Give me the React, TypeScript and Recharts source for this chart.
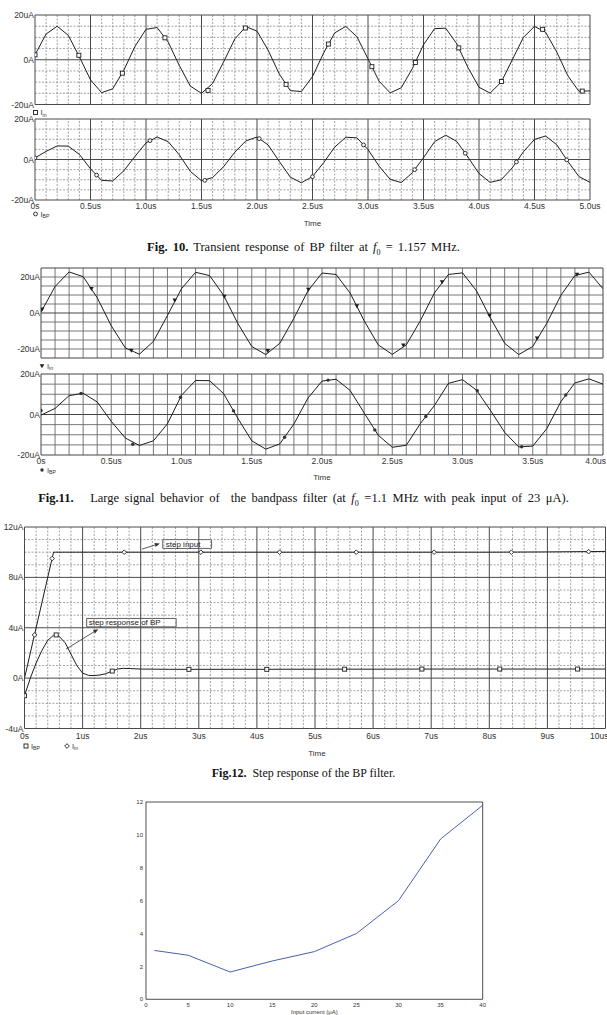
import React from "react";
import {
  ComposedChart,
  LineChart,
  Line,
  Scatter,
  XAxis,
  YAxis,
  ReferenceLine,
  ReferenceArea,
} from "recharts";

const SANS = '"Liberation Sans", Arial, Helvetica, sans-serif';
const SERIF = '"Liberation Serif", "Times New Roman", serif';
const INK = "#1e1e1e";
const LABEL = "#333";

// ---------- Fig. 10 : transient response at f0 = 1.157 MHz ----------
const fig10Time = [0, 0.1, 0.2, 0.3, 0.4, 0.5, 0.6, 0.7, 0.8, 0.9, 1.0, 1.1, 1.2, 1.3, 1.4, 1.5, 1.6, 1.7, 1.8, 1.9, 2.0, 2.1, 2.2, 2.3, 2.4, 2.5, 2.6, 2.7, 2.8, 2.9, 3.0, 3.1, 3.2, 3.3, 3.4, 3.5, 3.6, 3.7, 3.8, 3.9, 4.0, 4.1, 4.2, 4.3, 4.4, 4.5, 4.6, 4.7, 4.8, 4.9, 5.0];
const fig10In = [2.2, 11.5, 15.0, 10.9, 1.3, -9.0, -14.7, -13.0, -4.7, 5.9, 13.6, 14.4, 7.9, -2.6, -11.8, -15.0, -10.6, -0.9, 9.3, 14.8, 12.8, 4.3, -6.3, -13.8, -14.2, -7.5, 3.0, 12.0, 14.9, 10.3, 0.4, -9.6, -14.8, -12.5, -3.9, 6.7, 13.9, 14.1, 7.1, -3.4, -12.3, -14.9, -10.0, 0.0, 10.0, 14.9, 12.3, 3.5, -7.1, -14.1, -13.9];
const fig10Bp = [0.8, 4.0, 6.7, 6.6, 2.5, -4.6, -10.3, -10.6, -5.6, 1.5, 8.2, 11.1, 8.8, 2.3, -5.9, -10.5, -8.9, -3.5, 3.6, 9.2, 11.1, 7.2, -0.9, -8.7, -11.5, -8.4, -1.6, 6.1, 11.0, 10.7, 4.9, -3.3, -9.8, -11.4, -6.5, 0.9, 8.8, 12.0, 8.9, 1.2, -6.9, -11.3, -10.0, -4.1, 3.8, 9.9, 11.6, 7.3, -0.9, -8.4, -11.3];
const fig10InMarkT = [0, 0.395, 0.787, 1.171, 1.559, 1.895, 2.262, 2.643, 3.035, 3.427, 3.818, 4.203, 4.573, 4.93];
const fig10InMarkV = [2.2, 2.0, -6.0, 9.8, -13.7, 14.2, -11.0, 7.0, -3.1, -1.2, 5.3, -9.7, 13.6, -14.0];
const fig10BpMarkT = [0, 0.555, 1.036, 1.53, 2.02, 2.5, 2.96, 3.42, 3.876, 4.337, 4.79];
const fig10BpMarkV = [0.8, -7.7, 9.3, -10.3, 10.3, -8.5, 7.2, -5.0, 3.1, -1.2, -0.2];
const fig10XTicks = [0, 0.5, 1, 1.5, 2, 2.5, 3, 3.5, 4, 4.5, 5];
const fig10XLabels = ["0s", "0.5us", "1.0us", "1.5us", "2.0us", "2.5us", "3.0us", "3.5us", "4.0us", "4.5us", "5.0us"];
const fig10YTicks = [20, 0, -20];
const fig10YLabels = ["20uA", "0A", "-20uA"];

// ---------- Fig. 11 : large signal, f0 = 1.1 MHz, 23 uA peak ----------
const fig11Time = [0, 0.1, 0.2, 0.3, 0.4, 0.5, 0.6, 0.7, 0.8, 0.9, 1.0, 1.1, 1.2, 1.3, 1.4, 1.5, 1.6, 1.7, 1.8, 1.9, 2.0, 2.1, 2.2, 2.3, 2.4, 2.5, 2.6, 2.7, 2.8, 2.9, 3.0, 3.1, 3.2, 3.3, 3.4, 3.5, 3.6, 3.7, 3.8, 3.9, 4.0];
const fig11In = [0.5, 14.7, 22.8, 20.2, 8.5, -7.1, -19.4, -22.9, -15.8, -1.4, 13.5, 22.6, 20.8, 9.8, -5.7, -18.6, -23.1, -16.8, -2.9, 12.3, 22.2, 21.4, 11.1, -4.3, -17.7, -23.0, -17.7, -4.3, 11.1, 21.4, 22.3, 12.3, -2.9, -16.8, -23.1, -18.6, -5.7, 9.8, 20.8, 22.7, 13.5];
const fig11Bp = [-0.3, 3.0, 9.3, 10.5, 6.2, -3.4, -11.6, -15.3, -13.0, -4.6, 9.5, 16.8, 16.7, 10.3, -1.8, -13.0, -17.1, -14.5, -4.7, 8.1, 16.5, 17.4, 11.9, 0.8, -10.2, -16.2, -15.2, -4.5, 4.4, 15.4, 17.2, 12.0, 1.9, -8.8, -16.0, -15.6, -7.0, 6.3, 15.6, 17.6, 15.0];
const fig11InMarkT = [0.008, 0.359, 0.643, 0.952, 1.305, 1.614, 1.903, 2.248, 2.579, 2.855, 3.192, 3.531, 3.815];
const fig11InMarkV = [2.0, 13.5, -20.9, 7.0, 9.2, -21.0, 13.0, 3.8, -18.0, 17.2, -1.4, -14.0, 21.3];
const fig11BpMarkT = [0, 0.285, 0.653, 0.993, 1.37, 1.734, 2.043, 2.376, 2.739, 3.105, 3.421, 3.735];
const fig11BpMarkV = [2.0, 10.4, -14.7, 8.5, 1.8, -11.2, 17.0, -7.6, -1.0, 11.7, -15.9, 9.6];
const fig11XTicks = [0, 0.5, 1, 1.5, 2, 2.5, 3, 3.5, 4];
const fig11XLabels = ["0s", "0.5us", "1.0us", "1.5us", "2.0us", "2.5us", "3.0us", "3.5us", "4.0us"];
const fig11YTicks = [20, 0, -20];
const fig11YLabels = ["20uA", "0A", "-20uA"];

// ---------- Fig. 12 : step response ----------
const fig12Time = [0, 0.1, 0.2, 0.3, 0.4, 0.5, 0.55, 0.6, 0.7, 0.8, 0.9, 1.0, 1.1, 1.2, 1.3, 1.4, 1.5, 1.6, 1.7, 1.8, 2.0, 2.5, 3.0, 4.0, 5.0, 6.0, 7.0, 8.0, 9.0, 10.0];
const fig12In = [0, 2.0, 4.0, 6.0, 8.0, 10.0, 10.0, 10.0, 10.0, 10.0, 10.0, 10.0, 10.0, 10.0, 10.0, 10.0, 10.0, 10.0, 10.0, 10.0, 10.0, 10.0, 10.0, 10.0, 10.0, 10.0, 10.0, 10.0, 10.02, 10.06];
const fig12Bp = [-1.4, 0.0, 1.2, 2.2, 3.0, 3.4, 3.45, 3.3, 2.8, 1.9, 1.0, 0.4, 0.22, 0.2, 0.25, 0.35, 0.55, 0.72, 0.78, 0.76, 0.72, 0.7, 0.7, 0.7, 0.71, 0.71, 0.72, 0.72, 0.72, 0.72];
const fig12BpMarkT = [0, 0.545, 1.51, 2.83, 4.17, 5.51, 6.84, 8.18, 9.52];
const fig12BpMarkV = [-1.4, 3.43, 0.56, 0.7, 0.7, 0.71, 0.72, 0.72, 0.72];
const fig12InMarkT = [0.172, 0.476, 1.716, 3.036, 4.39, 5.71, 7.05, 8.38, 9.71];
const fig12InMarkV = [3.43, 9.5, 10, 10, 10, 10, 10, 10, 10.04];
const fig12XTicks = [0, 1, 2, 3, 4, 5, 6, 7, 8, 9, 10];
const fig12XLabels = ["0s", "1us", "2us", "3us", "4us", "5us", "6us", "7us", "8us", "9us", "10us"];
const fig12YTicks = [12, 8, 4, 0, -4];
const fig12YLabels = ["12uA", "8uA", "4uA", "0A", "-4uA"];
// annotation boxes [x1, x2, y1, y2] and arrows [xFrom, yFrom, xTo, yTo], in axis units
const fig12StepBox = [2.38, 3.22, 10.3, 11.0];
const fig12StepArrow = [2.02, 10.24, 2.33, 10.69];
const fig12RespBox = [1.07, 2.61, 4.07, 4.74];
const fig12RespArrow = [0.714, 2.3, 1.27, 3.89];

// ---------- Fig. 13 : distortion vs input current ----------
const fig13Current = [1, 5, 10, 15, 20, 25, 30, 35, 40];
const fig13Value = [2.97, 2.68, 1.66, 2.33, 2.9, 4.0, 6.0, 9.75, 11.8];
const fig13XTicks = [0, 5, 10, 15, 20, 25, 30, 35, 40];
const fig13YTicks = [0, 2, 4, 6, 8, 10, 12];

const range = (a: number, b: number, s: number) => {
  const out: number[] = [];
  const n = Math.round((b - a) / s);
  for (let i = 0; i <= n; i++) out.push(Math.round((a + i * s) * 1000) / 1000);
  return out;
};

type MarkKind = "square" | "circle" | "dot" | "triangle" | "diamond";

function drawMark(kind: MarkKind, cx: number, cy: number, key?: string) {
  if (cx == null || cy == null || isNaN(cx) || isNaN(cy)) return <g key={key} />;
  switch (kind) {
    case "square":
      return <rect key={key} x={cx - 2} y={cy - 2} width={4} height={4} fill="#fff" stroke={INK} strokeWidth={0.9} />;
    case "circle":
      return <circle key={key} cx={cx} cy={cy} r={1.9} fill="#fff" stroke={INK} strokeWidth={0.9} />;
    case "dot":
      return <circle key={key} cx={cx} cy={cy} r={1.7} fill="#333" />;
    case "triangle":
      return <path key={key} d={`M${cx - 2.3},${cy - 1.8}L${cx + 2.3},${cy - 1.8}L${cx},${cy + 2.2}Z`} fill={INK} />;
    default:
      return <path key={key} d={`M${cx},${cy - 2.3}L${cx + 2.3},${cy}L${cx},${cy + 2.3}L${cx - 2.3},${cy}Z`} fill="#fff" stroke={INK} strokeWidth={0.9} />;
  }
}

const markShape = (kind: MarkKind) => (props: any) => drawMark(kind, props.cx, props.cy);

const arrowShape = (props: any) => {
  const { x1, y1, x2, y2 } = props;
  const a = Math.atan2(y2 - y1, x2 - x1);
  const bx = x2 - 5 * Math.cos(a);
  const by = y2 - 5 * Math.sin(a);
  const s = Math.sin(a);
  const c = Math.cos(a);
  return (
    <g>
      <line x1={x1} y1={y1} x2={bx} y2={by} stroke="#333" strokeWidth={0.8} />
      <path d={`M${x2},${y2}L${bx + 2 * s},${by - 2 * c}L${bx - 2 * s},${by + 2 * c}Z`} fill="#333" />
    </g>
  );
};

type GridStyle = { minor: string; major: string; dash?: string; minorW: number };

function gridLines(
  xMinor: number[],
  xMajor: number[],
  yMinor: number[],
  yMajor: number[],
  s: GridStyle
) {
  const nodes: React.ReactNode[] = [];
  xMinor
    .filter((v) => !xMajor.includes(v))
    .forEach((v) =>
      nodes.push(<ReferenceLine key={"xm" + v} x={v} stroke={s.minor} strokeWidth={s.minorW} strokeDasharray={s.dash} />)
    );
  yMinor
    .filter((v) => !yMajor.includes(v))
    .forEach((v) =>
      nodes.push(<ReferenceLine key={"ym" + v} y={v} stroke={s.minor} strokeWidth={s.minorW} strokeDasharray={s.dash} />)
    );
  xMajor.forEach((v) => nodes.push(<ReferenceLine key={"xM" + v} x={v} stroke={s.major} strokeWidth={1} />));
  yMajor.forEach((v) => nodes.push(<ReferenceLine key={"yM" + v} y={v} stroke={s.major} strokeWidth={1} />));
  return nodes;
}

const xTick = (ticks: number[], labels: string[], lastEnd: boolean) => (props: any) => {
  const { x, y, payload } = props;
  const i = ticks.indexOf(payload.value);
  const last = lastEnd && i === ticks.length - 1;
  return (
    <text x={last ? x + 3 : x} y={y} dy="0.71em" textAnchor={last ? "end" : "middle"} fontSize={8.5} fill={LABEL} fontFamily={SANS}>
      {labels[i]}
    </text>
  );
};

type Marks = { t: number[]; v: number[]; kind: MarkKind };

type PanelProps = {
  left: number;
  top: number;
  w: number;
  h: number;
  yAxisW: number;
  xAxisH: number;
  xTickMargin?: number;
  xDomain: [number, number];
  yDomain: [number, number];
  xTicks?: number[];
  xLabels?: string[];
  lastLabelEnd?: boolean;
  yTicks: number[];
  yLabels: string[];
  time: number[];
  series: number[][];
  marks: Marks[];
  grid: React.ReactNode[];
  children?: React.ReactNode;
};

function Panel(p: PanelProps) {
  const mt = 6;
  const mr = 16;
  const mb = p.xTicks ? 0 : 7;
  const table = p.time.map((t, i) => {
    const row: Record<string, number> = { t };
    p.series.forEach((s, k) => {
      row["s" + k] = s[i];
    });
    return row;
  });
  return (
    <div style={{ position: "absolute", left: p.left - p.yAxisW, top: p.top - mt }}>
      <ComposedChart
        width={p.yAxisW + p.w + mr}
        height={mt + p.h + p.xAxisH + mb}
        data={table}
        margin={{ top: mt, right: mr, bottom: mb, left: 0 }}
      >
        <XAxis
          dataKey="t"
          type="number"
          domain={p.xDomain}
          allowDataOverflow
          hide={!p.xTicks}
          height={p.xAxisH || 1}
          ticks={p.xTicks}
          interval={0}
          axisLine={false}
          tickLine={false}
          tickSize={0}
          tickMargin={p.xTickMargin ?? 3}
          tick={p.xTicks ? xTick(p.xTicks, p.xLabels || [], !!p.lastLabelEnd) : false}
        />
        <YAxis
          type="number"
          domain={p.yDomain}
          allowDataOverflow
          width={p.yAxisW}
          ticks={p.yTicks}
          interval={0}
          axisLine={false}
          tickLine={false}
          tickSize={0}
          tickMargin={1}
          tickFormatter={(v: number) => p.yLabels[p.yTicks.indexOf(v)] ?? ""}
          tick={{ fontSize: 8.5, fill: LABEL, fontFamily: SANS }}
        />
        {p.grid}
        {p.children}
        {p.series.map((_, k) => (
          <Line
            key={"s" + k}
            dataKey={"s" + k}
            type="linear"
            stroke={INK}
            strokeWidth={1}
            dot={false}
            activeDot={false}
            isAnimationActive={false}
          />
        ))}
        {p.marks.map((m, k) => (
          <Scatter
            key={"m" + k}
            data={m.t.map((t, i) => ({ t, v: m.v[i] }))}
            dataKey="v"
            shape={markShape(m.kind)}
            isAnimationActive={false}
          />
        ))}
      </ComposedChart>
    </div>
  );
}

const spiceDashed: GridStyle = { minor: "#8c8c8c", major: "#4a4a4a", dash: "2 1.5", minorW: 0.8 };
const spiceSolid: GridStyle = { minor: "#6a6a6a", major: "#444", minorW: 0.9 };

function Fig13() {
  const table = fig13Current.map((x, i) => ({ x, y: fig13Value[i] }));
  const frame = { stroke: "#222", strokeWidth: 0.8 };
  const tk = { fontSize: 6, fill: LABEL, fontFamily: SANS };
  const left = 146;
  const top = 801.7;
  const w = 336.7;
  const h = 197.3;
  const yw = 18;
  const xh = 16;
  return (
    <div style={{ position: "absolute", left: left - yw, top: top - 4 }}>
      <LineChart width={yw + w + 6} height={4 + h + xh} data={table} margin={{ top: 4, right: 6, left: 0, bottom: 0 }}>
        <XAxis
          xAxisId="b"
          dataKey="x"
          type="number"
          domain={[0, 40]}
          allowDataOverflow
          ticks={fig13XTicks}
          interval={0}
          height={xh}
          tickLine={false}
          tickSize={0}
          tickMargin={3}
          axisLine={frame}
          tick={tk}
          label={{ value: "Input current (μA)", position: "insideBottom", offset: 1, fontSize: 6, fill: LABEL, fontFamily: SANS }}
        />
        <XAxis xAxisId="bm" dataKey="x" type="number" domain={[0, 40]} allowDataOverflow ticks={fig13XTicks} interval={0} mirror tick={false} tickSize={3} tickLine={frame} axisLine={false} />
        <XAxis xAxisId="t" orientation="top" dataKey="x" type="number" domain={[0, 40]} allowDataOverflow ticks={fig13XTicks} interval={0} mirror tick={false} tickSize={3} tickLine={frame} axisLine={frame} />
        <YAxis yAxisId="l" type="number" domain={[0, 12]} allowDataOverflow ticks={fig13YTicks} interval={0} width={yw} tickLine={false} tickSize={0} tickMargin={3} axisLine={frame} tick={tk} />
        <YAxis yAxisId="lm" type="number" domain={[0, 12]} allowDataOverflow ticks={fig13YTicks} interval={0} mirror tick={false} tickSize={3} tickLine={frame} axisLine={false} />
        <YAxis yAxisId="r" orientation="right" type="number" domain={[0, 12]} allowDataOverflow ticks={fig13YTicks} interval={0} mirror tick={false} tickSize={3} tickLine={frame} axisLine={frame} />
        <Line xAxisId="b" yAxisId="l" dataKey="y" type="linear" stroke="#4a5eb2" strokeWidth={1} dot={false} activeDot={false} isAnimationActive={false} />
      </LineChart>
    </div>
  );
}

function Caption({ top, size, wordSpacing, children }: { top: number; size: number; wordSpacing: number; children: React.ReactNode }) {
  return (
    <div
      style={{
        position: "absolute",
        left: 0,
        top,
        width: 607,
        textAlign: "center",
        fontFamily: SERIF,
        fontSize: size,
        wordSpacing,
        lineHeight: "14px",
        color: "#111",
        whiteSpace: "pre",
      }}
    >
      {children}
    </div>
  );
}

function LegendItem({ x, y, kind, sub }: { x: number; y: number; kind: MarkKind; sub: string }) {
  return (
    <g>
      {drawMark(kind, x, y)}
      <text x={x + 5} y={y + 2.8} fontSize={7.5} fill={LABEL} fontFamily={SANS}>
        I
        <tspan fontSize={5.2} dy={1.6}>
          {sub}
        </tspan>
      </text>
    </g>
  );
}

function Overlay() {
  const time = { fontSize: 8, fill: LABEL, fontFamily: SANS, textAnchor: "middle" as const };
  return (
    <svg width={607} height={1015} style={{ position: "absolute", left: 0, top: 0, pointerEvents: "none" }}>
      <LegendItem x={35.5} y={112.5} kind="square" sub="in" />
      <LegendItem x={35.5} y={214} kind="circle" sub="BP" />
      <LegendItem x={42} y={366} kind="triangle" sub="in" />
      <LegendItem x={42} y={470} kind="dot" sub="BP" />
      <LegendItem x={26} y={746} kind="square" sub="BP" />
      <LegendItem x={67} y={746} kind="diamond" sub="in" />
      <text x={312.5} y={226} {...time}>Time</text>
      <text x={322} y={479.5} {...time}>Time</text>
      <text x={317} y={755.5} {...time}>Time</text>
    </svg>
  );
}

export default function App() {
  const f10grid = gridLines(range(0, 5, 0.1), range(0, 5, 0.5), range(-20, 20, 5), [-20, 0, 20], spiceDashed);
  const f11gridTop = gridLines(range(0, 4, 0.1), [0, 4], range(-25, 25, 5), [-25, 0, 25], spiceSolid);
  const f11gridBot = gridLines(range(0, 4, 0.1), [0, 4], range(-20, 20, 5), [-20, 0, 20], spiceSolid);
  const f12grid = gridLines(range(0, 10, 0.2), range(0, 10, 1), range(-4, 12, 1), range(-4, 12, 4), spiceDashed);

  return (
    <div style={{ position: "absolute", left: 0, top: 0, width: 607, height: 1015, background: "#fff", overflow: "hidden" }}>
      {/* Fig. 10 */}
      <Panel
        left={35} top={14.5} w={555} h={89.5} yAxisW={35} xAxisH={0}
        xDomain={[0, 5]} yDomain={[-20, 20]}
        yTicks={fig10YTicks} yLabels={fig10YLabels}
        time={fig10Time} series={[fig10In]}
        marks={[{ t: fig10InMarkT, v: fig10InMarkV, kind: "square" }]}
        grid={f10grid}
      />
      <Panel
        left={35} top={119} w={555} h={81} yAxisW={35} xAxisH={14} xTickMargin={3}
        xDomain={[0, 5]} yDomain={[-20, 20]}
        xTicks={fig10XTicks} xLabels={fig10XLabels}
        yTicks={fig10YTicks} yLabels={fig10YLabels}
        time={fig10Time} series={[fig10Bp]}
        marks={[{ t: fig10BpMarkT, v: fig10BpMarkV, kind: "circle" }]}
        grid={f10grid}
      />
      <Caption top={240} size={12.5} wordSpacing={2}>
        <b>Fig. 10.</b> Transient response of BP filter at <i>f</i>
        <sub style={{ fontSize: 8 }}>0</sub> = 1.157 MHz.
      </Caption>

      {/* Fig. 11 */}
      <Panel
        left={41} top={268} w={562} h={90} yAxisW={41} xAxisH={0}
        xDomain={[0, 4]} yDomain={[-25, 25]}
        yTicks={fig11YTicks} yLabels={fig11YLabels}
        time={fig11Time} series={[fig11In]}
        marks={[{ t: fig11InMarkT, v: fig11InMarkV, kind: "triangle" }]}
        grid={f11gridTop}
      />
      <Panel
        left={41} top={374} w={562} h={81} yAxisW={41} xAxisH={14} xTickMargin={3}
        xDomain={[0, 4]} yDomain={[-20, 20]}
        xTicks={fig11XTicks} xLabels={fig11XLabels} lastLabelEnd
        yTicks={fig11YTicks} yLabels={fig11YLabels}
        time={fig11Time} series={[fig11Bp]}
        marks={[{ t: fig11BpMarkT, v: fig11BpMarkV, kind: "dot" }]}
        grid={f11gridBot}
      />
      <Caption top={491} size={12.5} wordSpacing={2.4}>
        <b>Fig.11.</b>{"   "}Large signal behavior of{"  "}the bandpass filter (at <i>f</i>
        <sub style={{ fontSize: 8 }}>0</sub> =1.1 MHz with peak input of 23 μA).
      </Caption>

      {/* Fig. 12 */}
      <Panel
        left={24.5} top={527} w={581} h={201.5} yAxisW={24.5} xAxisH={14} xTickMargin={4}
        xDomain={[0, 10]} yDomain={[-4, 12]}
        xTicks={fig12XTicks} xLabels={fig12XLabels} lastLabelEnd
        yTicks={fig12YTicks} yLabels={fig12YLabels}
        time={fig12Time} series={[fig12Bp, fig12In]}
        marks={[
          { t: fig12BpMarkT, v: fig12BpMarkV, kind: "square" },
          { t: fig12InMarkT, v: fig12InMarkV, kind: "diamond" },
        ]}
        grid={f12grid}
      >
        <ReferenceArea
          x1={fig12StepBox[0]} x2={fig12StepBox[1]} y1={fig12StepBox[2]} y2={fig12StepBox[3]}
          stroke="#333" strokeWidth={0.8} fill="#fff" fillOpacity={1}
          label={{ value: "step input", position: "insideLeft", offset: 3, fontSize: 8, fill: "#222", fontFamily: SANS }}
        />
        <ReferenceLine
          segment={[{ x: fig12StepArrow[0], y: fig12StepArrow[1] }, { x: fig12StepArrow[2], y: fig12StepArrow[3] }]}
          shape={arrowShape}
        />
        <ReferenceArea
          x1={fig12RespBox[0]} x2={fig12RespBox[1]} y1={fig12RespBox[2]} y2={fig12RespBox[3]}
          stroke="#333" strokeWidth={0.8} fill="#fff" fillOpacity={1}
          label={{ value: "step response of BP", position: "insideLeft", offset: 2, fontSize: 8, fill: "#222", fontFamily: SANS }}
        />
        <ReferenceLine
          segment={[{ x: fig12RespArrow[0], y: fig12RespArrow[1] }, { x: fig12RespArrow[2], y: fig12RespArrow[3] }]}
          shape={arrowShape}
        />
      </Panel>
      <Caption top={766} size={12} wordSpacing={0}>
        <b>Fig.12.</b>{"  "}Step response of the BP filter.
      </Caption>

      {/* Fig. 13 */}
      <Fig13 />

      <Overlay />
    </div>
  );
}
